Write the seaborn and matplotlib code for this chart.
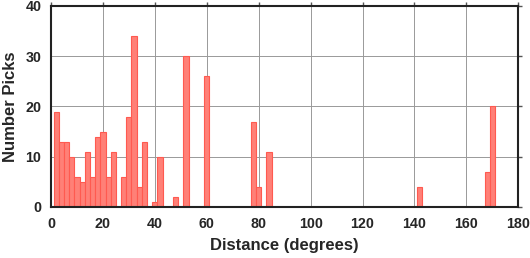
import numpy as np
import pandas as pd
import matplotlib
matplotlib.use("Agg")
import matplotlib.pyplot as plt
import seaborn as sns

# Bin centres (degrees) and pick counts
distance = [2, 4, 6, 8, 10, 12, 14, 16, 18, 20, 22, 24, 28, 30, 32, 34, 36,
            40, 42, 48, 52, 60, 78, 80, 84, 142, 168, 170]
picks = [19, 13, 13, 10, 6, 5, 11, 6, 14, 15, 6, 11, 6, 18, 34, 4, 13,
         1, 10, 2, 30, 26, 17, 4, 11, 4, 7, 20]
x_ticks = [0, 20, 40, 60, 80, 100, 120, 140, 160, 180]
y_ticks = [0, 10, 20, 30, 40]

df = pd.DataFrame({"distance": distance, "picks": picks})

sns.set_style("white")
plt.rcParams["font.family"] = ["Liberation Sans", "DejaVu Sans"]

fig = plt.figure(figsize=(5.30, 2.58), dpi=100)
ax = fig.add_axes([51 / 530, 1 - 207 / 258, (518.3 - 51) / 530, (207 - 6) / 258])

sns.histplot(data=df, x="distance", weights="picks", binwidth=2, binrange=(1, 181),
             color="#ff8077", edgecolor="#ff5a50", linewidth=0.8, alpha=1.0,
             ax=ax, zorder=3)

ax.set_xlim(0, 180)
ax.set_ylim(0, 40)
ax.set_xticks(x_ticks)
ax.set_yticks(y_ticks)
ax.grid(True, color="#999999", linewidth=0.7, zorder=0)
ax.set_axisbelow(True)

for s in ax.spines.values():
    s.set_visible(True)
    s.set_color("#222222")
    s.set_linewidth(1.5)
    s.set_zorder(5)

ax.tick_params(axis="both", which="both", direction="out", length=3, width=1.0,
               color="#555555", top=True, right=True,
               labelsize=10.3, pad=4)
for lab in ax.get_xticklabels() + ax.get_yticklabels():
    lab.set_fontweight("bold")

ax.set_xlabel("Distance (degrees)", fontsize=12, fontweight="bold", labelpad=5)
ax.set_ylabel("Number Picks", fontsize=12, fontweight="bold", labelpad=5)

fig.savefig("out.png", dpi=100)
